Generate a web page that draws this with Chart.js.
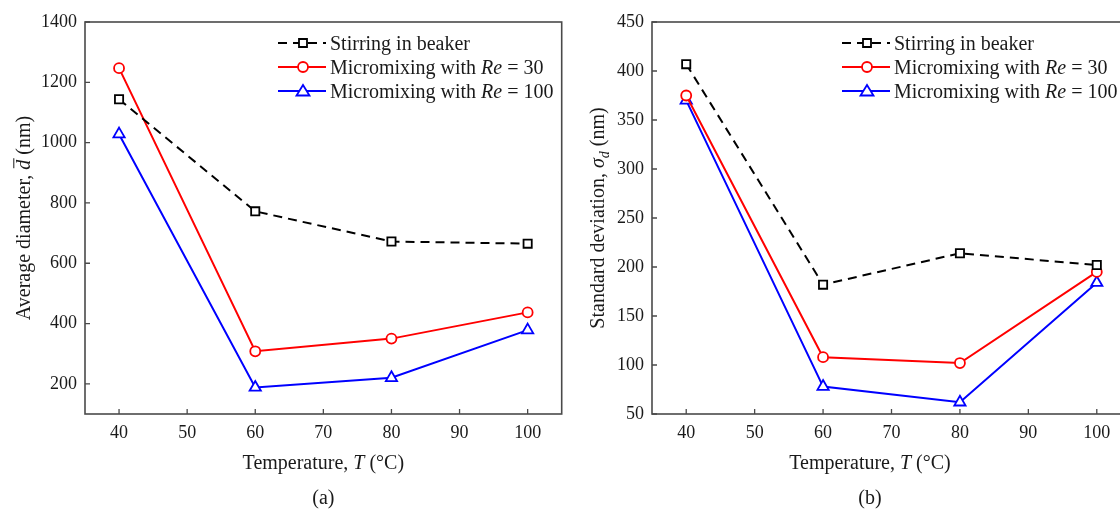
<!DOCTYPE html>
<html>
<head>
<meta charset="utf-8">
<script src="https://cdn.jsdelivr.net/npm/chart.js@4/dist/chart.umd.min.js"></script>
<style>
    html, body { margin: 0; padding: 0; background: #fff; overflow: hidden; }
    body { width: 1120px; height: 510px; position: relative; }
    canvas { position: absolute; top: 0; }
    #chartA { left: 0; }
    #chartB { left: 570px; }
</style>
</head>
<body>
<canvas id="chartA" width="570" height="510"></canvas>
<canvas id="chartB" width="570" height="510"></canvas>
<script>
// temperatures (°C)
const temps = [40, 60, 80, 100];

// (a) average diameter (nm)
const diamBeaker = [1144, 772, 672, 665];
const diamRe30 = [1247, 308, 350, 437];
const diamRe100 = [1028, 188, 220, 378];

// (b) standard deviation (nm)
const sdBeaker = [407, 182, 214, 202];
const sdRe30 = [375, 108, 102, 195];
const sdRe100 = [370, 78, 62, 184];

// tick labels
const xTicks = [40, 50, 60, 70, 80, 90, 100];
const diamTicks = [200, 400, 600, 800, 1000, 1200, 1400];
const sdTicks = [50, 100, 150, 200, 250, 300, 350, 400, 450];

const seriesLabels = ['Stirring in beaker', 'Micromixing with Re = 30', 'Micromixing with Re = 100'];

const FONT = '"Liberation Serif", "Times New Roman", serif';
const TXT = '#1a1a1a';

// écrit un texte avec des morceaux en italique / indice / barre
function drawRich(ctx, parts, x0, y0, size, angle, align) {
    ctx.save();
    ctx.translate(x0, y0);
    ctx.rotate(angle || 0);
    const fontFor = p => (p.italic ? 'italic ' : '') + (p.sub ? Math.round(size * 0.72) : size) + 'px ' + FONT;
    let total = 0;
    for (const p of parts) {
        ctx.font = fontFor(p);
        p.w = ctx.measureText(p.t).width;
        total += p.w;
    }
    let x = align === 'left' ? 0 : -total / 2;
    const base = size * 0.34;
    ctx.textAlign = 'left';
    ctx.textBaseline = 'alphabetic';
    ctx.fillStyle = TXT;
    for (const p of parts) {
        ctx.font = fontFor(p);
        ctx.fillText(p.t, x, base + (p.sub ? size * 0.28 : 0));
        if (p.bar) {
            ctx.beginPath();
            ctx.moveTo(x + 1.5, base - size * 0.8);
            ctx.lineTo(x + p.w + 1.5, base - size * 0.8);
            ctx.lineWidth = 1;
            ctx.strokeStyle = TXT;
            ctx.stroke();
        }
        x += p.w;
    }
    ctx.restore();
}

function labelParts(label) {
    // "Re" en italique
    const parts = [];
    label.split(/(Re)/).forEach(s => {
        if (s !== '') parts.push({t: s, italic: s === 'Re'});
    });
    return parts;
}

function drawMarker(ctx, style, x, y, color) {
    ctx.save();
    ctx.beginPath();
    if (style === 'rect') {
        ctx.rect(x - 4, y - 4, 8, 8);
    } else if (style === 'circle') {
        ctx.arc(x, y, 5, 0, Math.PI * 2);
    } else {
        ctx.moveTo(x, y - 6);
        ctx.lineTo(x + 6.5, y + 4.5);
        ctx.lineTo(x - 6.5, y + 4.5);
        ctx.closePath();
    }
    ctx.fillStyle = '#fff';
    ctx.fill();
    ctx.lineWidth = 1.8;
    ctx.strokeStyle = color;
    ctx.setLineDash([]);
    ctx.stroke();
    ctx.restore();
}

const decor = {
    id: 'decor',
    afterDraw(chart, args, opts) {
        const ctx = chart.ctx;
        const a = chart.chartArea;
        const xs = chart.scales.x, ys = chart.scales.y;

        // cadre
        ctx.save();
        ctx.strokeStyle = '#4a4a4a';
        ctx.lineWidth = 1.6;
        ctx.strokeRect(a.left, a.top, a.right - a.left, a.bottom - a.top);

        // graduations vers l'intérieur
        ctx.lineWidth = 1.3;
        ctx.beginPath();
        for (const t of xs.ticks) {
            const px = xs.getPixelForValue(t.value);
            ctx.moveTo(px, a.bottom);
            ctx.lineTo(px, a.bottom - 5);
        }
        for (const t of ys.ticks) {
            const py = ys.getPixelForValue(t.value);
            ctx.moveTo(a.left, py);
            ctx.lineTo(a.left + 5, py);
        }
        ctx.stroke();
        ctx.restore();

        // titres des axes et légende
        const cx = opts.xTitleX !== undefined ? opts.xTitleX : (a.left + a.right) / 2;
        drawRich(ctx, opts.xTitle, cx, 462, 20, 0);
        drawRich(ctx, opts.caption, cx, 497, 20, 0);
        drawRich(ctx, opts.yTitle, opts.yTitleX, (a.top + a.bottom) / 2, 20, -Math.PI / 2);

        const lx = a.left + opts.legendDx;
        chart.data.datasets.forEach((ds, i) => {
            const ly = 43 + i * 24;
            ctx.save();
            ctx.beginPath();
            ctx.strokeStyle = ds.borderColor;
            ctx.lineWidth = 2;
            ctx.setLineDash(ds.borderDash || []);
            ctx.moveTo(lx, ly);
            ctx.lineTo(lx + 48, ly);
            ctx.stroke();
            ctx.restore();
            drawMarker(ctx, ds.pointStyle, lx + 25, ly, ds.borderColor);
            drawRich(ctx, labelParts(ds.label), lx + 52, ly, 20, 0, 'left');
        });
    }
};

function makeDatasets(beaker, re30, re100) {
    const pts = ys => temps.map((t, i) => ({x: t, y: ys[i]}));
    return [
        {label: seriesLabels[0], data: pts(beaker), borderColor: '#000', borderDash: [9, 6],
            pointStyle: 'rect', pointRadius: 5.8},
        {label: seriesLabels[1], data: pts(re30), borderColor: '#ff0000',
            pointStyle: 'circle', pointRadius: 5},
        {label: seriesLabels[2], data: pts(re100), borderColor: '#0000ff',
            pointStyle: 'triangle', pointRadius: 6.5}
    ].map(d => Object.assign(d, {
        borderWidth: 2,
        pointBorderWidth: 1.8,
        pointBackgroundColor: '#fff',
        pointBorderColor: d.borderColor,
        tension: 0,
        fill: false
    }));
}

function makeChart(id, datasets, yMin, yMax, yTickVals, yWidth, rightPad, decorOpts) {
    const ctx = document.getElementById(id).getContext('2d');
    return new Chart(ctx, {
        type: 'line',
        data: {datasets: datasets},
        options: {
            responsive: false,
            animation: false,
            layout: {padding: {top: 22, right: rightPad, left: 0, bottom: 0}},
            plugins: {
                legend: {display: false},
                tooltip: {enabled: false},
                decor: decorOpts
            },
            scales: {
                x: {
                    type: 'linear',
                    min: 35,
                    max: 105,
                    grid: {display: false, drawTicks: false},
                    border: {display: false},
                    afterBuildTicks: s => { s.ticks = xTicks.map(v => ({value: v})); },
                    afterFit: s => { s.height = 96; },
                    ticks: {color: TXT, padding: 8, font: {family: FONT, size: 18}, maxRotation: 0,
                        callback: v => String(v)}
                },
                y: {
                    type: 'linear',
                    min: yMin,
                    max: yMax,
                    grid: {display: false, drawTicks: false},
                    border: {display: false},
                    afterBuildTicks: s => { s.ticks = yTickVals.map(v => ({value: v})); },
                    afterFit: s => { s.width = yWidth; },
                    ticks: {color: TXT, padding: 8, font: {family: FONT, size: 18},
                        callback: v => String(v)}
                }
            }
        },
        plugins: [decor]
    });
}

makeChart('chartA', makeDatasets(diamBeaker, diamRe30, diamRe100), 100, 1400, diamTicks, 85, 7, {
    xTitle: [{t: 'Temperature, '}, {t: 'T', italic: true}, {t: ' (°C)'}],
    caption: [{t: '(a)'}],
    yTitle: [{t: 'Average diameter, '}, {t: 'd', italic: true, bar: true}, {t: ' (nm)'}],
    yTitleX: 23,
    legendDx: 193
});

makeChart('chartB', makeDatasets(sdBeaker, sdRe30, sdRe100), 50, 450, sdTicks, 82, 9, {
    xTitle: [{t: 'Temperature, '}, {t: 'T', italic: true}, {t: ' (°C)'}],
    xTitleX: 300,
    caption: [{t: '(b)'}],
    yTitle: [{t: 'Standard deviation, '}, {t: 'σ', italic: true}, {t: 'd', italic: true, sub: true}, {t: ' (nm)'}],
    yTitleX: 27,
    legendDx: 190
});
</script>
</body>
</html>
